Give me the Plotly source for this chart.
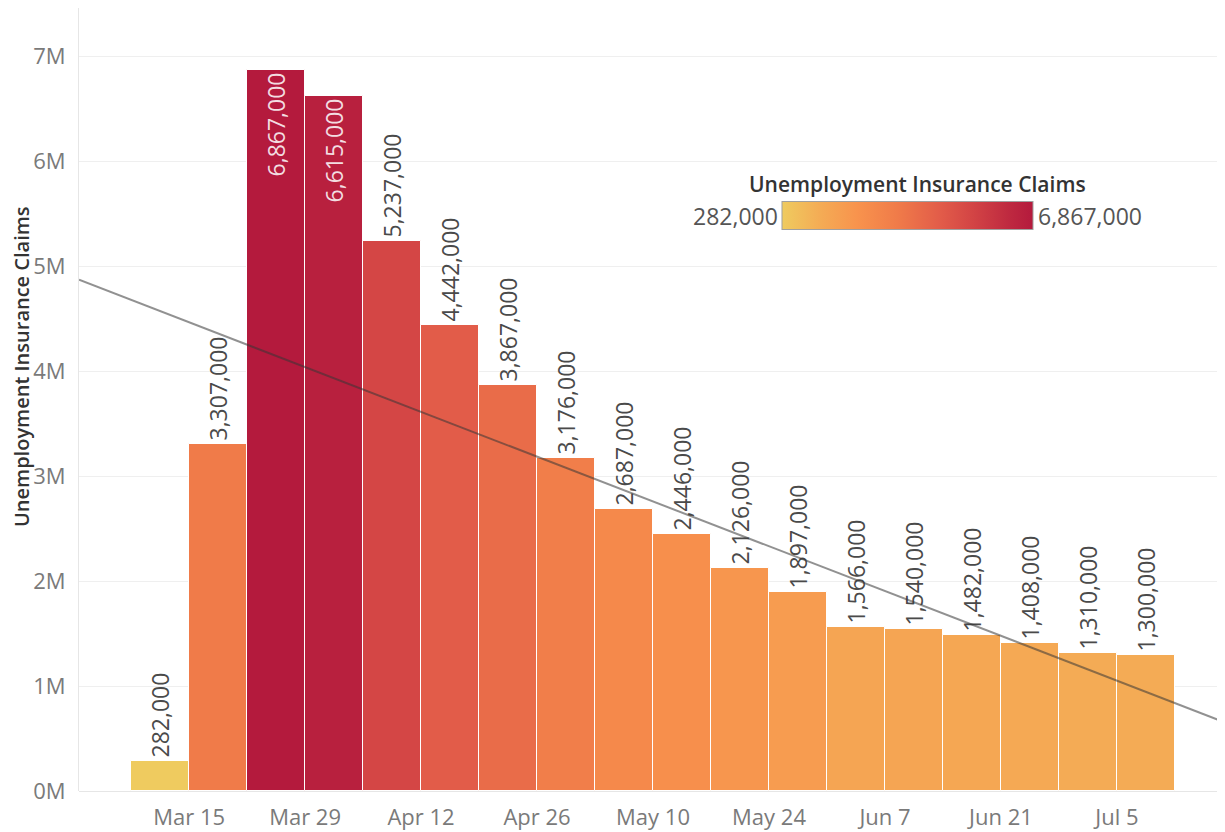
import numpy as np
import pandas as pd
import plotly.graph_objects as go

# ---- data ----
week_start = ["2020-03-08", "2020-03-15", "2020-03-22", "2020-03-29", "2020-04-05",
              "2020-04-12", "2020-04-19", "2020-04-26", "2020-05-03", "2020-05-10",
              "2020-05-17", "2020-05-24", "2020-05-31", "2020-06-07", "2020-06-14",
              "2020-06-21", "2020-06-28", "2020-07-05"]
claims = [282000, 3307000, 6867000, 6615000, 5237000, 4442000, 3867000, 3176000,
          2687000, 2446000, 2126000, 1897000, 1566000, 1540000, 1482000, 1408000,
          1310000, 1300000]
tick_dates = ["2020-03-15", "2020-03-29", "2020-04-12", "2020-04-26", "2020-05-10",
              "2020-05-24", "2020-06-07", "2020-06-21", "2020-07-05"]
tick_labels = ["Mar 15", "Mar 29", "Apr 12", "Apr 26", "May 10", "May 24",
               "Jun 7", "Jun 21", "Jul 5"]
y_ticks = [0, 1e6, 2e6, 3e6, 4e6, 5e6, 6e6, 7e6]
y_tick_labels = ["0M", "1M", "2M", "3M", "4M", "5M", "6M", "7M"]

FONT = "Open Sans"
WEEK_MS = 7 * 24 * 3600 * 1000

colorscale = [[0.0, "#EFCB5F"], [0.15, "#F4AC55"], [0.3, "#F8934D"],
              [0.46, "#F07B49"], [0.63, "#E25C49"], [0.75, "#D44645"],
              [0.9, "#BF2A40"], [1.0, "#B41A3D"]]

dates = pd.to_datetime(week_start)
x_range = [pd.Timestamp("2020-03-01T17:00"), pd.Timestamp("2020-07-18T01:00")]

# linear trend line through week-start dates
ref = pd.Timestamp("2020-01-01")
days = (dates - ref).days.values.astype(float)
slope, intercept = np.polyfit(days, np.array(claims, dtype=float), 1)
trend_x = x_range
trend_days = np.array([(t - ref).total_seconds() / 86400 for t in trend_x])
trend_y = slope * trend_days + intercept

labels = [f"{v:,}" for v in claims]
positions = ["inside" if v > 6_000_000 else "outside" for v in claims]

PLOT_H = 783  # px
fig = go.Figure()
fig.add_trace(go.Bar(
    x=dates, y=claims, width=[WEEK_MS] * len(claims), offset=0,
    marker=dict(color=claims, colorscale=colorscale, cmin=min(claims), cmax=max(claims),
                line=dict(color="white", width=1),
                showscale=True,
                colorbar=dict(orientation="h", thickness=28, len=251, lenmode="pixels",
                              x=0.723, xanchor="center", y=0.7344, yanchor="middle",
                              showticklabels=False, ticks="", outlinecolor="#A0A0A0",
                              outlinewidth=1, xpad=0, ypad=0)),
    text=labels, textposition=positions, textangle=-90,
    insidetextanchor="end", constraintext="none", cliponaxis=False,
    outsidetextfont=dict(family=FONT, size=23, color="#4a4a4a"),
    insidetextfont=dict(family=FONT, size=23, color="#F3DDE1"),
    hoverinfo="x+y", showlegend=False,
))
fig.add_trace(go.Scatter(
    x=trend_x, y=trend_y, mode="lines",
    line=dict(color="rgba(55,55,55,0.55)", width=2),
    hoverinfo="skip", showlegend=False,
))

# colour legend title and end labels
fig.add_annotation(x=0.732, y=0.7752, xref="paper", yref="paper",
                   text="Unemployment Insurance Claims", showarrow=False,
                   font=dict(family=FONT, size=21, color="#333333", weight=600),
                   xanchor="center", yanchor="middle")
fig.add_annotation(x=0.6082, y=0.7344, xref="paper", yref="paper",
                   text=f"{min(claims):,}", showarrow=False,
                   font=dict(family=FONT, size=23, color="#555555"),
                   xanchor="right", yanchor="middle", xshift=4)
fig.add_annotation(x=0.8386, y=0.7344, xref="paper", yref="paper",
                   text=f"{max(claims):,}", showarrow=False,
                   font=dict(family=FONT, size=23, color="#555555"),
                   xanchor="left", yanchor="middle", xshift=-4)
# y-axis title
fig.add_annotation(x=-0.0506, y=0.5415, xref="paper", yref="paper",
                   text="Unemployment Insurance Claims", showarrow=False, textangle=-90,
                   font=dict(family=FONT, size=20, color="#333333", weight=600),
                   xanchor="center", yanchor="middle", borderpad=0)

fig.update_layout(
    width=1217, height=824,
    margin=dict(l=71, r=0, t=0, b=41),
    paper_bgcolor="white", plot_bgcolor="white",
    font=dict(family=FONT, color="#777777"),
    bargap=0,
)
fig.update_xaxes(
    type="date", range=x_range, tickvals=pd.to_datetime(tick_dates), ticktext=tick_labels,
    showgrid=False, zeroline=False, showline=False, ticks="", automargin=False,
    ticklabelstandoff=11,
    tickfont=dict(family=FONT, size=22, color="#7a7a7a"),
)
fig.update_yaxes(
    range=[0, PLOT_H / 105 * 1e6], tickvals=y_ticks, ticktext=y_tick_labels,
    showgrid=True, gridcolor="#EFEFEF", gridwidth=1,
    zeroline=True, zerolinecolor="#E6E6E6", zerolinewidth=1,
    showline=True, linecolor="#E6E6E6", linewidth=1, ticks="", automargin=False,
    ticklabelstandoff=8,
    tickfont=dict(family=FONT, size=22, color="#7a7a7a"),
)

fig.write_html("out.html")
